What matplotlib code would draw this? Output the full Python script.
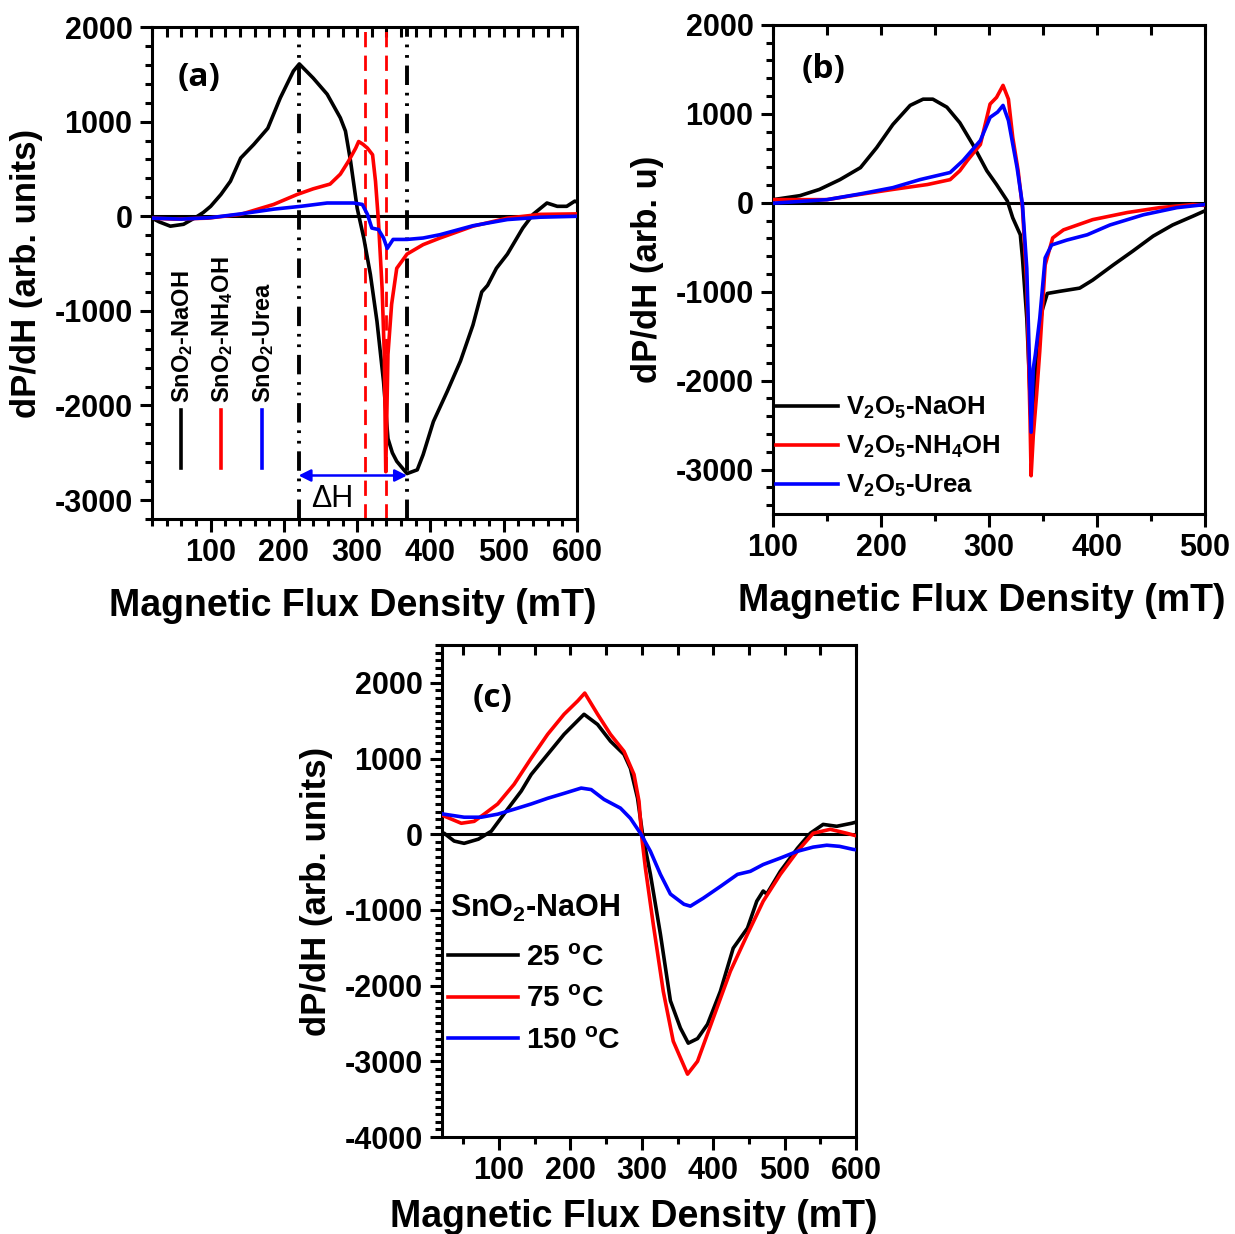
import matplotlib
matplotlib.use('Agg')
import matplotlib.pyplot as plt
from matplotlib.ticker import MultipleLocator

plt.rcParams['font.family'] = ['Liberation Sans', 'DejaVu Sans']
plt.rcParams['font.weight'] = 'bold'
plt.rcParams['axes.labelweight'] = 'bold'
plt.rcParams['axes.unicode_minus'] = False
plt.rcParams['mathtext.fontset'] = 'custom'
plt.rcParams['mathtext.rm'] = 'Liberation Sans:bold'
plt.rcParams['mathtext.bf'] = 'Liberation Sans:bold'
plt.rcParams['mathtext.default'] = 'bf'

# ---------------- panel (a): SnO2 by precipitant ----------------
a_labels = ['SnO$_2$-NaOH', 'SnO$_2$-NH$_4$OH', 'SnO$_2$-Urea']

a_naoh_x = [20, 30, 45, 63, 80, 90, 100, 114, 127, 141, 159, 178, 195, 213, 221, 240, 259, 277, 284,
            291, 300, 309, 318, 327, 336, 342, 348, 354, 368, 382, 390, 404, 423, 441, 458, 470, 478,
            490, 505, 526, 540, 559, 573, 586, 597, 600]
a_naoh_y = [-20, -60, -105, -85, -10, 40, 105, 230, 370, 615, 760, 930, 1250, 1535, 1610, 1460, 1290,
            1040, 900, 580, 85, -230, -615, -1110, -1750, -2350, -2500, -2590, -2720, -2680, -2520,
            -2170, -1850, -1530, -1150, -800, -730, -550, -400, -125, 20, 140, 105, 105, 160, 150]

a_nh4oh_x = [20, 50, 96, 141, 186, 218, 240, 263, 277, 288, 298, 302, 308, 314, 321, 325, 329, 334,
             337, 339, 342, 347, 354, 368, 390, 413, 458, 505, 550, 600]
a_nh4oh_y = [-20, -30, -20, 20, 125, 230, 290, 340, 445, 580, 720, 790, 760, 720, 650, 370, -50, -760,
             -1460, -2700, -1460, -930, -550, -400, -300, -230, -105, -20, 20, 25]

a_urea_x = [20, 60, 100, 141, 186, 223, 259, 295, 307, 314, 320, 329, 336, 341, 349, 368, 390, 413,
            458, 505, 550, 600]
a_urea_y = [-20, -30, -15, 25, 75, 105, 140, 140, 125, 20, -125, -140, -230, -340, -245, -245, -230,
            -195, -100, -35, -10, 0]

a_black_marks = [220, 368]   # peak-to-peak of SnO2-NaOH
a_red_marks = [310, 340]     # peak-to-peak of SnO2-NH4OH
a_arrow_y = -2740

# ---------------- panel (b): V2O5 by precipitant ----------------
b_labels = ['V$_2$O$_5$-NaOH', 'V$_2$O$_5$-NH$_4$OH', 'V$_2$O$_5$-Urea']

b_naoh_x = [100, 125, 143, 162, 181, 196, 211, 227, 239, 248, 261, 273, 285, 298, 307, 317, 322, 329,
            331, 335, 337, 339, 341, 344, 349, 354, 366, 384, 396, 415, 433, 452, 470, 489, 500]
b_naoh_y = [35, 80, 150, 260, 395, 620, 880, 1095, 1165, 1165, 1075, 900, 655, 360, 205, 20, -170,
            -360, -620, -1300, -1865, -2500, -2300, -1670, -1220, -1020, -995, -960, -870, -700, -545,
            -375, -250, -150, -90]

b_nh4oh_x = [100, 150, 181, 211, 243, 264, 273, 280, 292, 301, 307, 313, 318, 322, 327, 331, 335, 338,
             339, 341, 344, 347, 352, 359, 369, 396, 428, 458, 489, 500]
b_nh4oh_y = [35, 35, 95, 150, 205, 260, 360, 475, 655, 1110, 1185, 1320, 1165, 735, 360, -55, -925,
             -2430, -3070, -2620, -2170, -1670, -700, -395, -305, -190, -110, -55, -20, -30]

b_urea_x = [100, 150, 181, 211, 236, 264, 276, 292, 301, 308, 313, 318, 326, 331, 335, 337, 339, 341,
            343, 347, 352, 358, 372, 391, 412, 443, 474, 500]
b_urea_y = [-5, 35, 100, 170, 260, 340, 475, 700, 960, 1020, 1095, 925, 395, -20, -735, -1600, -2580,
            -1865, -1700, -1300, -620, -475, -420, -360, -250, -135, -55, -20]

# ---------------- panel (c): SnO2-NaOH by temperature ----------------
c_title = 'SnO$_2$-NaOH'
c_labels = ['25 $^{o}$C', '75 $^{o}$C', '150 $^{o}$C']

c_25_x = [20, 23, 37, 51, 71, 89, 113, 131, 145, 168, 191, 219, 238, 256, 275, 284, 294, 301, 312,
          326, 340, 354, 365, 378, 392, 410, 428, 448, 461, 470, 475, 494, 518, 536, 554, 573, 594, 600]
c_25_y = [20, 13, -90, -120, -65, 40, 345, 570, 790, 1055, 1320, 1585, 1450, 1230, 1055, 870, 475, 0,
          -530, -1320, -2200, -2560, -2760, -2700, -2510, -2075, -1505, -1240, -885, -750, -790, -490,
          -185, 13, 130, 105, 145, 160]

c_75_x = [20, 23, 47, 65, 79, 98, 121, 145, 168, 191, 210, 220, 238, 256, 275, 289, 296, 300, 305,
          316, 330, 344, 364, 378, 400, 424, 448, 470, 494, 518, 540, 564, 587, 600]
c_75_y = [260, 240, 145, 170, 265, 400, 660, 1005, 1320, 1585, 1760, 1865, 1585, 1320, 1095, 790, 435,
          -50, -450, -1190, -2075, -2735, -3170, -3000, -2430, -1810, -1320, -885, -530, -225, 13, 65,
          13, -20]

c_150_x = [20, 23, 51, 75, 98, 121, 145, 168, 191, 215, 229, 247, 270, 284, 298, 312, 326, 340, 359,
           368, 386, 410, 434, 452, 470, 494, 518, 540, 559, 577, 596, 600]
c_150_y = [270, 265, 225, 225, 265, 330, 400, 475, 540, 610, 590, 460, 345, 210, 13, -225, -530, -790,
           -925, -950, -845, -690, -530, -490, -400, -315, -225, -170, -145, -160, -200, -205]

colors = ['black', 'red', 'blue']

TICK_FS = 22
XLABEL_FS = 27
YLABEL_FS = 25
CURVE_LW = 2.6


def style_axes(ax, xlim, ylim, xmajor, xminor, ymajor, yminor, top_step, ylabel, xpad=14, xlab_x=0.48):
    """
    frame, ticks and labels in the style of the original plots
    :param top_step: spacing of the inward ticks on the top spine
    """
    ax.set_xlim(*xlim)
    ax.set_ylim(*ylim)
    ax.xaxis.set_major_locator(MultipleLocator(xmajor))
    ax.xaxis.set_minor_locator(MultipleLocator(xminor))
    ax.yaxis.set_major_locator(MultipleLocator(ymajor))
    ax.yaxis.set_minor_locator(MultipleLocator(yminor))
    ax.tick_params(which='major', direction='out', length=9, width=2.2, labelsize=TICK_FS, pad=5)
    ax.tick_params(which='minor', direction='out', length=5, width=2.2)
    for spine in ax.spines.values():
        spine.set_linewidth(2.2)

    # inward ticks along the top spine
    top = ax.secondary_xaxis('top')
    top.xaxis.set_major_locator(MultipleLocator(top_step))
    top.xaxis.set_minor_locator(MultipleLocator(top_step))
    top.tick_params(which='both', direction='in', length=7, width=2.2, labeltop=False)

    ax.axhline(0, color='black', lw=2.2, zorder=1)
    ax.set_xlabel('Magnetic Flux Density (mT)', fontsize=XLABEL_FS, labelpad=xpad)
    ax.xaxis.label.set_x(xlab_x)
    ax.set_ylabel(ylabel, fontsize=YLABEL_FS, labelpad=8)


fig = plt.figure(figsize=(12.35, 12.34), dpi=100)

# ---------------- (a) ----------------
ax_a = fig.add_axes([0.1231, 0.5794, 0.3441, 0.3987])
for xs, ys, c in zip([a_naoh_x, a_nh4oh_x, a_urea_x], [a_naoh_y, a_nh4oh_y, a_urea_y], colors):
    ax_a.plot(xs, ys, color=c, lw=CURVE_LW, zorder=3)
for xv in a_black_marks:
    ax_a.axvline(xv, color='black', lw=2.8, dashes=(5.0, 2.0, 0.7, 2.0, 0.7, 2.0), zorder=2)
for xv in a_red_marks:
    ax_a.axvline(xv, color='red', lw=2.0, dashes=(5.5, 3.0), zorder=2)
ax_a.annotate('', xy=(a_black_marks[1], a_arrow_y), xytext=(a_black_marks[0], a_arrow_y),
              arrowprops=dict(arrowstyle='<|-|>', color='blue', lw=1.8, mutation_scale=18,
                              shrinkA=0, shrinkB=0), zorder=4)
ax_a.text(sum(a_black_marks) / 2 - 28, a_arrow_y - 250, '\u0394H', fontsize=22, fontweight='normal',
          ha='center', va='center')
style_axes(ax_a, (20, 600), (-3200, 2000), 100, 20, 1000, 200, 20, 'dP/dH (arb. units)',
           xlab_x=0.473)
ax_a.text(0.111, 0.898, '(a)', transform=ax_a.transAxes, fontsize=24, family='Open Sans',
          fontweight='bold', ha='center', va='center')
# vertical legend
for xa, lab, c in zip([0.068, 0.162, 0.259], a_labels, colors):
    ax_a.plot([xa, xa], [0.104, 0.222], color=c, lw=2.6, transform=ax_a.transAxes)
    ax_a.text(xa + 0.004, 0.236, lab, rotation=90, fontsize=17, ha='center', va='bottom',
              transform=ax_a.transAxes)

# ---------------- (b) ----------------
ax_b = fig.add_axes([0.6259, 0.5835, 0.3498, 0.3963])
for xs, ys, c, lab in zip([b_naoh_x, b_nh4oh_x, b_urea_x], [b_naoh_y, b_nh4oh_y, b_urea_y], colors,
                          b_labels):
    ax_b.plot(xs, ys, color=c, lw=CURVE_LW, label=lab, zorder=3)
style_axes(ax_b, (100, 500), (-3500, 2000), 100, 50, 1000, 200, 50, 'dP/dH (arb. u)', xlab_x=0.484)
ax_b.text(0.116, 0.908, '(b)', transform=ax_b.transAxes, fontsize=24, family='Open Sans',
          fontweight='bold', ha='center', va='center')
ax_b.legend(loc='upper left', bbox_to_anchor=(0.008, 0.243), frameon=False, fontsize=18.5,
            handlelength=2.4, handletextpad=0.3, labelspacing=0.5, borderpad=0, borderaxespad=0)

# ---------------- (c) ----------------
ax_c = fig.add_axes([0.3579, 0.0786, 0.3352, 0.3987])
for xs, ys, c, lab in zip([c_25_x, c_75_x, c_150_x], [c_25_y, c_75_y, c_150_y], colors, c_labels):
    ax_c.plot(xs, ys, color=c, lw=CURVE_LW, label=lab, zorder=3)
style_axes(ax_c, (20, 600), (-4000, 2500), 100, 50, 1000, 100, 50, 'dP/dH (arb. units)', xpad=9,
           xlab_x=0.464)
ax_c.text(0.123, 0.892, '(c)', transform=ax_c.transAxes, fontsize=24, family='Open Sans',
          fontweight='bold', ha='center', va='center')
ax_c.text(0.02, 0.465, c_title, transform=ax_c.transAxes, fontsize=22, ha='left', va='center')
ax_c.legend(loc='upper left', bbox_to_anchor=(0.015, 0.393), frameon=False, fontsize=21.5,
            handlelength=2.35, handletextpad=0.27, labelspacing=0.45, borderpad=0, borderaxespad=0)

fig.savefig('out.png', dpi=100, facecolor='white')
